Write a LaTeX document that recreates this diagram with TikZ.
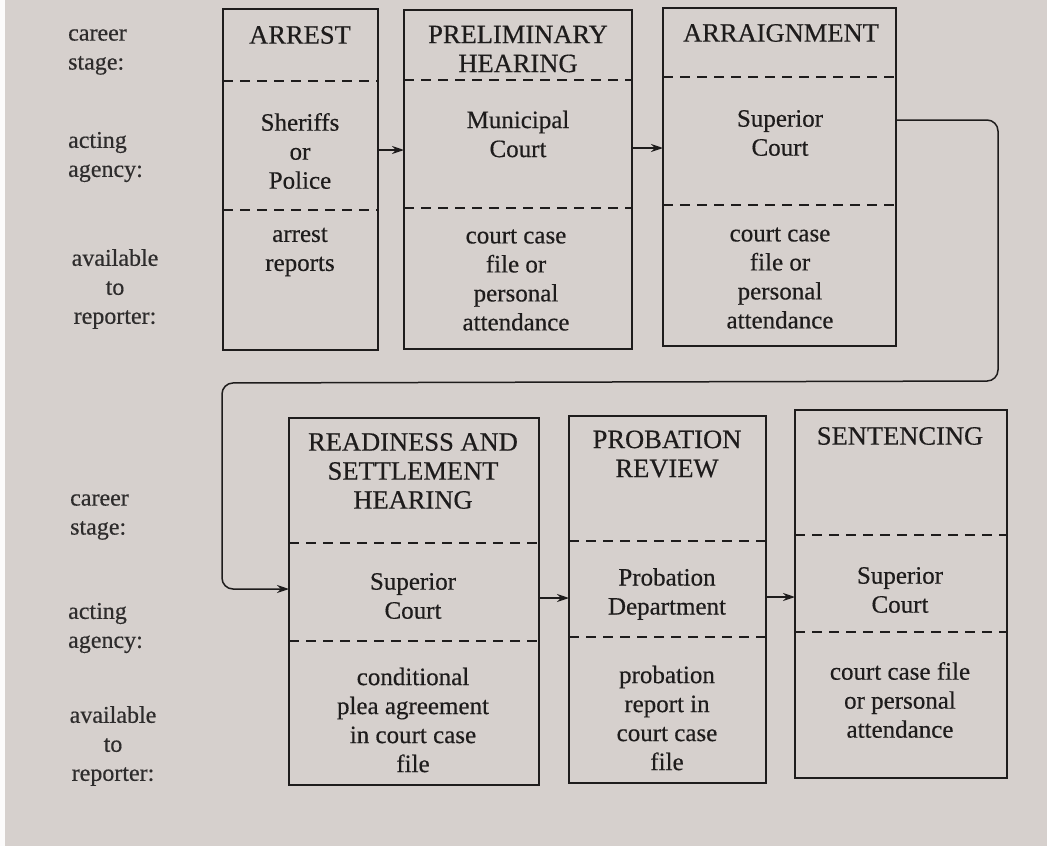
\documentclass[tikz,border=0pt]{standalone}
\usepackage{fontspec}
\setmainfont{Liberation Serif}
\newfontfamily\inkfont[FakeBold=0.45]{Liberation Serif}
\usetikzlibrary{arrows.meta}
\definecolor{paper}{HTML}{D6D0CD}
\definecolor{ink}{HTML}{1E1C1C}
\definecolor{labelink}{HTML}{2E2C2C}
\tikzset{
  stagebox/.style={draw=ink, line width=1.6pt, anchor=north west, inner sep=0pt, outer sep=0pt},
  divider/.style={draw=ink, line width=1.6pt, dash pattern=on 10pt off 7pt},
  boxtext/.style={text=ink, align=center, font=\inkfont\fontsize{25}{29}\selectfont, inner sep=0pt},
  titletext/.style={text=ink, align=center, font=\inkfont\fontsize{26.5}{29}\selectfont, inner sep=0pt},
  lefttext/.style={text=labelink, align=left, font=\inkfont\fontsize{24}{29}\selectfont, inner sep=0pt, anchor=west},
  midtext/.style={text=labelink, align=center, font=\inkfont\fontsize{24}{29}\selectfont, inner sep=0pt},
  flow/.style={draw=ink, line width=1.6pt, -{Stealth[length=12pt,width=8pt]}},
  loopline/.style={draw=ink, line width=1.5pt, rounded corners=11pt, -{Stealth[length=12pt,width=8pt]}}
}
\begin{document}
\begin{tikzpicture}[x=1pt,y=-1pt]
\fill[paper] (0,0) rectangle (1047,846);
\fill[white!92!paper] (0,0) rectangle (5,846);
\useasboundingbox (0,0) rectangle (1047,846);

% boxes
\node[stagebox, minimum width=155pt, minimum height=341pt] (arrest) at (223,9) {};
\node[stagebox, minimum width=228pt, minimum height=339pt] (prelim) at (404,10) {};
\node[stagebox, minimum width=233pt, minimum height=338pt] (arraign) at (663,8) {};
\node[stagebox, minimum width=250pt, minimum height=367pt] (ready) at (289,418) {};
\node[stagebox, minimum width=197pt, minimum height=367pt] (prob) at (569,416) {};
\node[stagebox, minimum width=212pt, minimum height=368pt] (sent) at (795,410) {};

% dividers
\draw[divider] ([yshift=-72pt]arrest.north west) -- ([yshift=-72pt]arrest.north east);
\draw[divider] ([yshift=-201pt]arrest.north west) -- ([yshift=-201pt]arrest.north east);
\draw[divider] ([yshift=-70pt]prelim.north west) -- ([yshift=-70pt]prelim.north east);
\draw[divider] ([yshift=-198pt]prelim.north west) -- ([yshift=-198pt]prelim.north east);
\draw[divider] ([yshift=-69pt]arraign.north west) -- ([yshift=-69pt]arraign.north east);
\draw[divider] ([yshift=-197pt]arraign.north west) -- ([yshift=-197pt]arraign.north east);
\draw[divider] ([yshift=-125pt]ready.north west) -- ([yshift=-125pt]ready.north east);
\draw[divider] ([yshift=-223pt]ready.north west) -- ([yshift=-223pt]ready.north east);
\draw[divider] ([yshift=-125pt]prob.north west) -- ([yshift=-125pt]prob.north east);
\draw[divider] ([yshift=-221pt]prob.north west) -- ([yshift=-221pt]prob.north east);
\draw[divider] ([yshift=-125pt]sent.north west) -- ([yshift=-125pt]sent.north east);
\draw[divider] ([yshift=-222pt]sent.north west) -- ([yshift=-222pt]sent.north east);

% box texts
\node[titletext] (t1a) at (300,35) {ARREST};
\node[boxtext] (t1b) at (300,151) {Sheriffs\\or\\Police};
\node[boxtext] (t1c) at (300,252) {arrest\\reports};
\node[titletext] (t2a) at (518,49) {PRELIMINARY\\HEARING};
\node[boxtext] (t2b) at (518,134) {Municipal\\Court};
\node[boxtext] (t2c) at (516,280) {court case\\file or\\personal\\attendance};
\node[titletext] (t3a) at (781,33) {ARRAIGNMENT};
\node[boxtext] (t3b) at (780,133) {Superior\\Court};
\node[boxtext] (t3c) at (780,278) {court case\\file or\\personal\\attendance};
\node[titletext] (t4a) at (413,471) {READINESS AND\\SETTLEMENT\\HEARING};
\node[boxtext] (t4b) at (413,596) {Superior\\Court};
\node[boxtext] (t4c) at (413,720) {conditional\\plea agreement\\in court case\\file};
\node[titletext] (t5a) at (667,454) {PROBATION\\REVIEW};
\node[boxtext] (t5b) at (667,594) {Probation\\Department};
\node[boxtext] (t5c) at (667,718) {probation\\report in\\court case\\file};
\node[titletext] (t6a) at (900,436) {SENTENCING};
\node[boxtext] (t6b) at (900,590) {Superior\\Court};
\node[boxtext] (t6c) at (900,700) {court case file\\or personal\\attendance};

% row labels
\node[lefttext] (l1) at (68,52) {career\\stage:};
\node[lefttext] (l2) at (68,157) {acting\\agency:};
\node[midtext] (l3) at (115,289) {available\\to\\reporter:};
\node[lefttext] (l4) at (70,517) {career\\stage:};
\node[lefttext] (l5) at (68,628) {acting\\agency:};
\node[midtext] (l6) at (113,746) {available\\to\\reporter:};

% connectors
\draw[flow] ([yshift=-141pt]arrest.north east) -- ([yshift=-140pt]prelim.north west);
\draw[flow] ([yshift=-138pt]prelim.north east) -- ([yshift=-140pt]arraign.north west);
\draw[flow] ([yshift=-180pt]ready.north east) -- ([yshift=-182pt]prob.north west);
\draw[flow] ([yshift=-181pt]prob.north east) -- ([yshift=-187pt]sent.north west);
\coordinate (c1) at ([yshift=-112pt]arraign.north east);
\coordinate (c2) at ([yshift=-171pt]ready.north west);
\draw[loopline] (c1) -- (998,120) -- (998,381) -- (222,383) -- (222,589) -- (c2);
\end{tikzpicture}
\end{document}
